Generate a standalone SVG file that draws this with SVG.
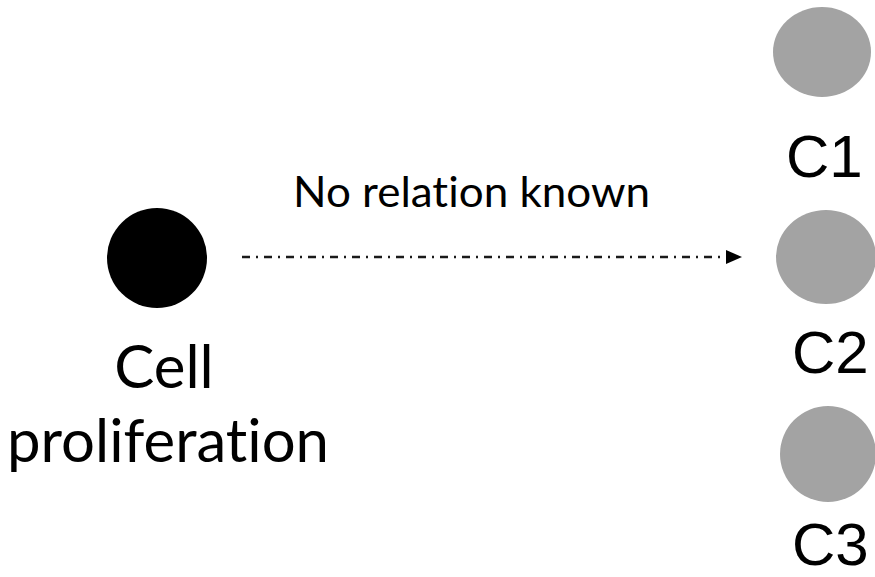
<svg xmlns="http://www.w3.org/2000/svg" width="875" height="577" viewBox="0 0 875 577">
  <defs>
    <style>
      .hum { font-family: Lato, "Open Sans", sans-serif; fill: #000; font-variant-ligatures: none; font-feature-settings: "liga" 0, "clig" 0; }
      .lab { font-family: "Liberation Sans", Arial, sans-serif; font-size: 60px; fill: #000; }
      .gray { fill: #a3a3a3; }
      .conn { stroke: #1a1a1a; stroke-width: 2.5; fill: none; stroke-dasharray: 8 6 2 6; }
    </style>
  </defs>
  <rect width="875" height="577" fill="#fff"/>

  <g id="connectors">
    <line class="conn" x1="242" y1="257" x2="726" y2="257"/>
    <polygon points="726,250 742,257 726,264" fill="#000"/>
    <text class="hum" x="293" y="207" font-size="42" textLength="357" lengthAdjust="spacingAndGlyphs">No relation known</text>
  </g>

  <g id="cell-proliferation">
    <circle cx="157" cy="258" r="50" fill="#000"/>
    <text class="hum" x="164" y="388" font-size="60" text-anchor="middle">Cell</text>
    <text class="hum" x="168" y="462" font-size="60" text-anchor="middle" textLength="322" lengthAdjust="spacingAndGlyphs">proliferation</text>
  </g>

  <g id="C1">
    <ellipse class="gray" cx="822" cy="52" rx="49" ry="45"/>
    <text class="lab" x="786" y="177">C1</text>
  </g>

  <g id="C2">
    <ellipse class="gray" cx="826" cy="257" rx="50" ry="47"/>
    <text class="lab" x="792" y="373">C2</text>
  </g>

  <g id="C3">
    <ellipse class="gray" cx="828" cy="454" rx="48" ry="48"/>
    <text class="lab" x="792" y="565">C3</text>
  </g>
</svg>
